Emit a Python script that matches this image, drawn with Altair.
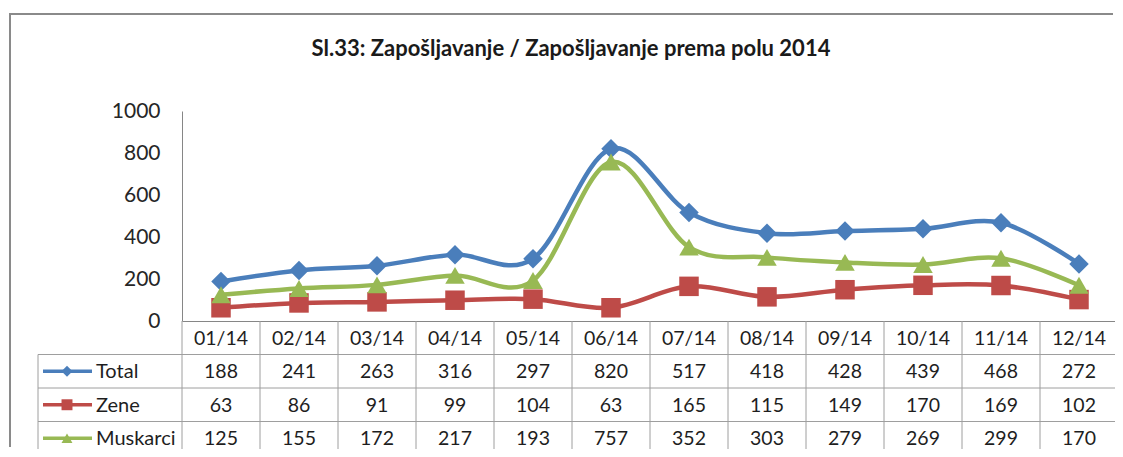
import altair as alt
import pandas as pd

# ---- data ----
months = ["01/14", "02/14", "03/14", "04/14", "05/14", "06/14",
          "07/14", "08/14", "09/14", "10/14", "11/14", "12/14"]
series = ["Total", "Zene", "Muskarci"]
total = [188, 241, 263, 316, 297, 820, 517, 418, 428, 439, 468, 272]
zene = [63, 86, 91, 99, 104, 63, 165, 115, 149, 170, 169, 102]
muskarci = [125, 155, 172, 217, 193, 757, 352, 303, 279, 269, 299, 170]
y_ticks = [0, 200, 400, 600, 800, 1000]
title_text = "Sl.33: Zapošljavanje / Zapošljavanje prema polu 2014"
colors = ["#4A7EBB", "#BE4B48", "#98B954"]
shapes = ["diamond", "square", "triangle-up"]

FONT = "Lato"
W, H = 936, 210
ROW = 33.5
PAD_L, PAD_T, PAD_R, PAD_B = 174, 103, -3, 128
RIGHT = W + PAD_R
BOTTOM = H + PAD_B
GRID = "#9e9e9e"
TXT = "#1e1e1e"
FRAME = "#8a8a8a"

rows = []
for r, (s, vals) in enumerate(zip(series, [total, zene, muskarci]), start=1):
    for i, (m, v) in enumerate(zip(months, vals)):
        rows.append(dict(series=s, month=m, idx=i, value=v, c=r + 0.5))
df = pd.DataFrame(rows)

tbl_bottom = (BOTTOM - H) / ROW
hdr = pd.DataFrame({"idx": list(range(len(months))), "month": months, "c": 0.5})
bounds = pd.DataFrame({"b": [i - 0.5 for i in range(len(months))], "top": 0,
                       "bottom": tbl_bottom})
hlines = pd.DataFrame({"r": [1, 2, 3]})
lborder = pd.DataFrame({"top": [1], "bottom": [tbl_bottom]})
leg = pd.DataFrame({"series": series, "c": [1.5, 2.5, 3.5]})
ttl = pd.DataFrame({"t": [title_text]})
# chart-area border corners: bottom-left -> top-left -> top-right
frame_pts = pd.DataFrame({"fx": [0, 0, 1], "fy": [1, 0, 0], "k": [0, 1, 2]})

xs = alt.Scale(domain=[-0.5, len(months) - 0.5], nice=False, zero=False)
ys = alt.Scale(domain=[0, 1000], nice=False)
ts = alt.Scale(domain=[0, 4], range=[H, H + 4 * ROW], nice=False, zero=False)
fxs = alt.Scale(domain=[0, 1], range=[-172, RIGHT - 2], nice=False, zero=False)
fys = alt.Scale(domain=[0, 1], range=[-97, BOTTOM - 2], nice=False, zero=False)
cs = alt.Scale(domain=series, range=colors)
ss = alt.Scale(domain=series, range=shapes)

xaxis = alt.Axis(labels=False, ticks=False, grid=False, domainColor="#868686",
                 domainWidth=1, title=None)
yaxis = alt.Axis(values=y_ticks, format="d", ticks=False, grid=False,
                 domainColor="#868686", domainWidth=1, title=None, labelFont=FONT,
                 labelFontSize=21, labelColor="#262626", labelPadding=22)

frame = alt.Chart(frame_pts).mark_line(color=FRAME, strokeWidth=2,
                                       interpolate="linear").encode(
    x=alt.X("fx:Q", scale=fxs, axis=None),
    y=alt.Y("fy:Q", scale=fys, axis=None),
    order=alt.Order("k:Q"),
)

title = alt.Chart(ttl).mark_text(font=FONT, fontSize=22, fontWeight="bold",
                                 color="#1a1a1a", align="center",
                                 baseline="middle").encode(
    x=alt.value(389), y=alt.value(-62), text="t:N")

lines = alt.Chart(df).mark_line(interpolate="cardinal", strokeWidth=4.5).encode(
    x=alt.X("idx:Q", scale=xs, axis=xaxis),
    y=alt.Y("value:Q", scale=ys, axis=yaxis),
    color=alt.Color("series:N", scale=cs, legend=None),
    order=alt.Order("idx:Q"),
)

points = alt.Chart(df).mark_point(filled=True, size=380, opacity=1).encode(
    x=alt.X("idx:Q", scale=xs, axis=None),
    y=alt.Y("value:Q", scale=ys, axis=None),
    color=alt.Color("series:N", scale=cs, legend=None),
    shape=alt.Shape("series:N", scale=ss, legend=None),
)

vrules = alt.Chart(bounds).mark_rule(color=GRID, strokeWidth=1).encode(
    x=alt.X("b:Q", scale=xs, axis=None),
    y=alt.Y("top:Q", scale=ts, axis=None),
    y2="bottom:Q",
)

hrules = alt.Chart(hlines).mark_rule(color=GRID, strokeWidth=1).encode(
    x=alt.value(-144), x2=alt.value(RIGHT),
    y=alt.Y("r:Q", scale=ts, axis=None),
)

lrule = alt.Chart(lborder).mark_rule(color=GRID, strokeWidth=1).encode(
    x=alt.value(-144),
    y=alt.Y("top:Q", scale=ts, axis=None),
    y2="bottom:Q",
)

head_text = alt.Chart(hdr).mark_text(font=FONT, fontSize=19.5, color=TXT,
                                      baseline="middle", dy=1).encode(
    x=alt.X("idx:Q", scale=xs, axis=None),
    y=alt.Y("c:Q", scale=ts, axis=None),
    text="month:N",
)

val_text = alt.Chart(df).mark_text(font=FONT, fontSize=19.5, color=TXT,
                                    baseline="middle", dy=1).encode(
    x=alt.X("idx:Q", scale=xs, axis=None),
    y=alt.Y("c:Q", scale=ts, axis=None),
    text="value:Q",
)

leg_line = alt.Chart(leg).mark_rule(strokeWidth=3.5).encode(
    x=alt.value(-139), x2=alt.value(-90),
    y=alt.Y("c:Q", scale=ts, axis=None),
    color=alt.Color("series:N", scale=cs, legend=None),
)

leg_pt = alt.Chart(leg).mark_point(filled=True, size=120, opacity=1).encode(
    x=alt.value(-115),
    y=alt.Y("c:Q", scale=ts, axis=None),
    color=alt.Color("series:N", scale=cs, legend=None),
    shape=alt.Shape("series:N", scale=ss, legend=None),
)

leg_text = alt.Chart(leg).mark_text(font=FONT, fontSize=20, color=TXT, align="left",
                                     baseline="middle", dy=1).encode(
    x=alt.value(-86),
    y=alt.Y("c:Q", scale=ts, axis=None),
    text="series:N",
)

chart = alt.layer(
    frame, title, vrules, hrules, lrule, lines, points,
    head_text, val_text, leg_line, leg_pt, leg_text,
).resolve_scale(
    x="independent", y="independent", color="shared", shape="shared"
).properties(
    width=W, height=H,
    padding={"left": PAD_L, "top": PAD_T, "right": PAD_R, "bottom": PAD_B},
    autosize=alt.AutoSizeParams(type="none"),
).configure_view(stroke=None)

chart.save("out.html", embed_options={"renderer": "svg", "actions": False})
